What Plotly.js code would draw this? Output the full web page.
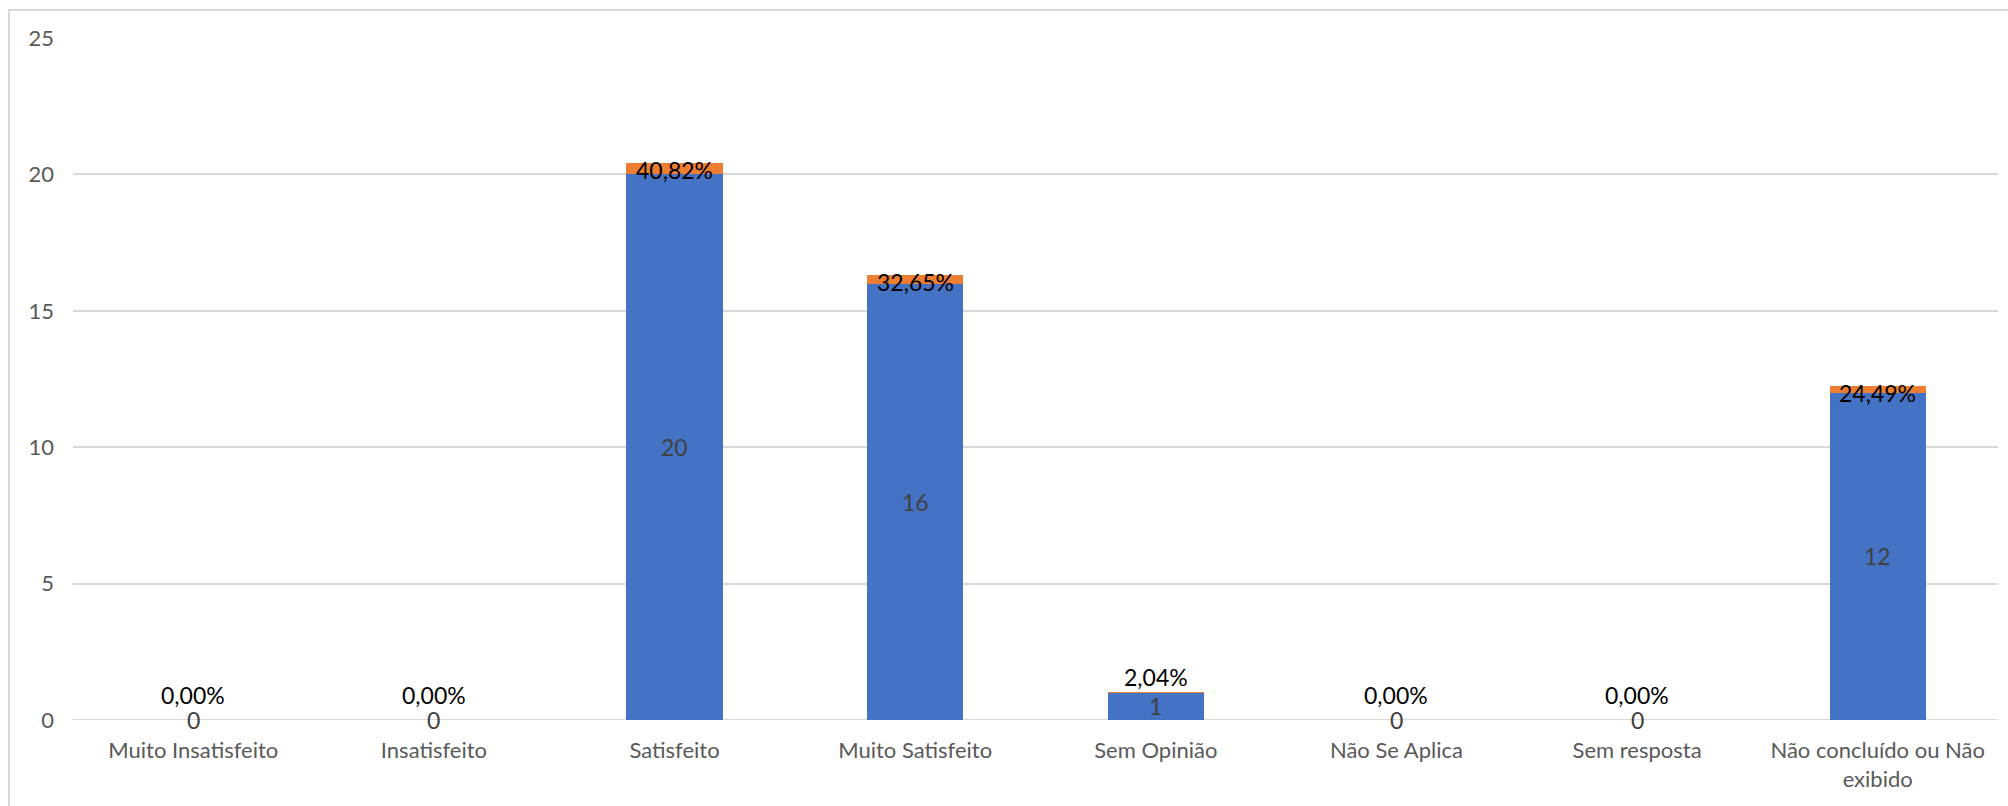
<!DOCTYPE html>
<html>
<head>
<meta charset="utf-8">
<script src="https://cdn.plot.ly/plotly-3.0.1.min.js"></script>
<style>
  html, body { margin: 0; padding: 0; background: #fff; overflow: hidden; }
  #chart { width: 2008px; height: 806px; position: absolute; left: 0; top: 0; }
  #frame { position: absolute; left: 8px; top: 9px; width: 2100px; height: 900px;
           border: 2px solid #D9D9D9; box-sizing: border-box; pointer-events: none; }
</style>
</head>
<body>
<div id="chart"></div>
<div id="frame"></div>
<script>
// ---- data ----
const categories = ["Muito Insatisfeito", "Insatisfeito", "Satisfeito", "Muito Satisfeito",
                    "Sem Opinião", "Não Se Aplica", "Sem resposta", "Não concluído ou Não exibido"];
const tickLabels = ["Muito Insatisfeito", "Insatisfeito", "Satisfeito", "Muito Satisfeito",
                    "Sem Opinião", "Não Se Aplica", "Sem resposta", "Não concluído ou Não<br>exibido"];
const counts = [0, 0, 20, 16, 1, 0, 0, 12];
const percents = [0.0, 0.0, 0.4082, 0.3265, 0.0204, 0.0, 0.0, 0.2449];
const percentLabels = ["0,00%", "0,00%", "40,82%", "32,65%", "2,04%", "0,00%", "0,00%", "24,49%"];
const countLabels = ["0", "0", "20", "16", "1", "0", "0", "12"];

const FONT = "Lato, 'Open Sans', sans-serif";

const blue = {
  type: "bar", x: categories, y: counts, name: "Quantidade",
  marker: { color: "#4472C4", line: { width: 0 } },
  hoverinfo: "skip"
};
const orange = {
  type: "bar", x: categories, y: percents, name: "Percentual",
  marker: { color: "#ED7D31", line: { width: 0 } },
  hoverinfo: "skip"
};

const annotations = [];
categories.forEach((c, i) => {
  annotations.push({
    x: c, y: counts[i] / 2, xref: "x", yref: "y",
    text: countLabels[i], showarrow: false,
    font: { family: FONT, size: 23, color: "#404040" },
    xanchor: "center", yanchor: "middle", borderpad: 0
  });
  let shift;
  if (counts[i] >= 5) shift = -7;
  else if (counts[i] > 0) shift = 15;
  else shift = 25;
  annotations.push({
    x: c, y: counts[i] + percents[i], xref: "x", yref: "y",
    text: percentLabels[i], showarrow: false,
    font: { family: FONT, size: 23, color: "#000000" },
    xanchor: "center", yanchor: "middle", yshift: shift, borderpad: 0
  });
});

const layout = {
  width: 2008, height: 806,
  margin: { l: 73, r: 10, t: 38, b: 86, pad: 0 },
  paper_bgcolor: "rgba(0,0,0,0)", plot_bgcolor: "rgba(0,0,0,0)",
  barmode: "stack", bargap: 0.6,
  showlegend: false,
  font: { family: FONT, size: 22, color: "#595959" },
  xaxis: {
    type: "category",
    tickvals: categories, ticktext: tickLabels,
    showgrid: false, zeroline: false, showline: false, ticks: "",
    tickfont: { family: FONT, size: 22, color: "#595959" },
    ticklabelstandoff: 15,
    automargin: false
  },
  yaxis: {
    range: [0, 25], dtick: 5, tick0: 0,
    showgrid: true, gridcolor: "#D9D9D9", gridwidth: 2,
    zeroline: false, showline: false, ticks: "",
    tickfont: { family: FONT, size: 22, color: "#595959" },
    ticklabelstandoff: 18,
    automargin: false
  },
  shapes: [{
    type: "line", xref: "paper", yref: "y", x0: 0, x1: 1, y0: 0, y1: 0,
    line: { color: "#D9D9D9", width: 2 }, layer: "below"
  }],
  annotations: annotations
};

Plotly.newPlot("chart", [blue, orange], layout, { displayModeBar: false, staticPlot: true });
</script>
</body>
</html>
